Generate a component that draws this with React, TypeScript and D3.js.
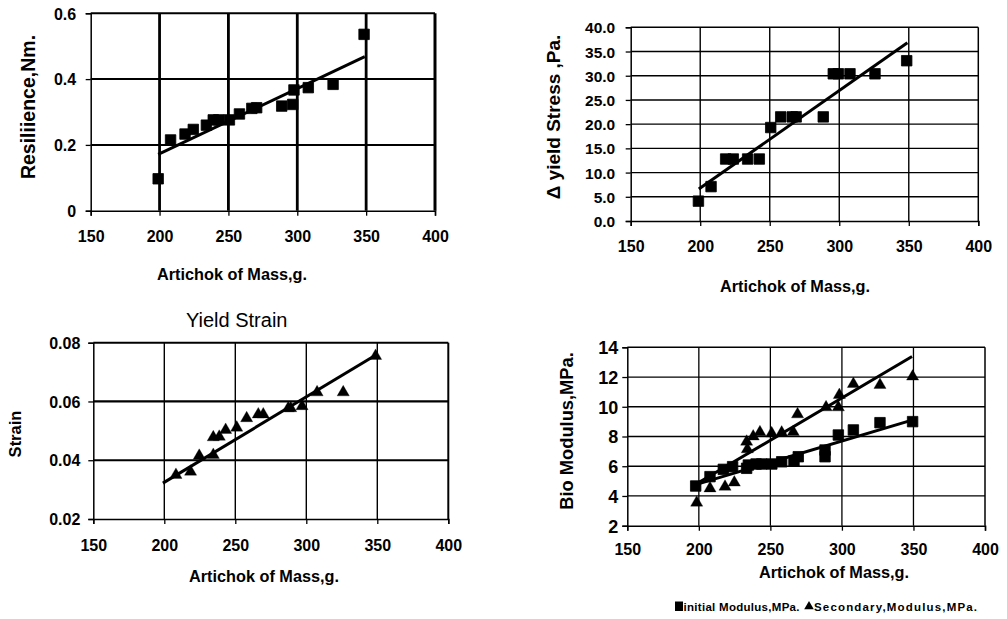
import React, { useEffect, useRef } from 'react';
import * as d3 from 'd3';

// shared x ticks (artichoke mass, g)
const massTicks = [150, 200, 250, 300, 350, 400];

// panel 1: resilience
const resMass = [199, 208, 218.5, 224.5, 234, 239, 243, 250.7, 258, 267, 270.5, 288.7, 296.7, 297.6, 308, 326, 348.5];
const resValue = [0.097, 0.215, 0.233, 0.247, 0.26, 0.276, 0.276, 0.276, 0.294, 0.311, 0.313, 0.318, 0.323, 0.367, 0.374, 0.384, 0.536];
const resTrend = [0.171, 0.468];

// panel 2: yield stress
const stressMass = [198.7, 207.8, 218.3, 223.8, 234.1, 242.5, 250.7, 257.9, 266.2, 269, 288.5, 295.7, 299.3, 307.7, 325.7, 348.5];
const stressValue = [4.1, 7.1, 12.8, 12.8, 12.8, 12.8, 19.3, 21.5, 21.5, 21.5, 21.5, 30.4, 30.4, 30.4, 30.4, 33.1];
const stressTrend = [6.6, 36.8];

// panel 3: yield strain
const strainMass = [208.2, 218.5, 224.6, 234.5, 234.5, 238.7, 243.2, 251, 258, 266.2, 269.7, 287.3, 289, 297, 307.6, 326, 348.8];
const strainValue = [0.035, 0.0361, 0.0415, 0.0418, 0.0478, 0.048, 0.0503, 0.0511, 0.0543, 0.0556, 0.0556, 0.0577, 0.0577, 0.0584, 0.0631, 0.0631, 0.0755];
const strainTrend = [0.0322, 0.0758];

// panel 4: bio modulus
const initMass = [197.8, 207.8, 217.1, 223.6, 233.4, 234.6, 240, 244, 251, 257.9, 266.5, 269.5, 288.2, 288.2, 297.5, 308, 326.6, 349.4];
const initValue = [4.67, 5.3, 5.79, 5.97, 5.86, 6.08, 6.15, 6.15, 6.15, 6.3, 6.37, 6.64, 6.64, 7.09, 8.1, 8.44, 8.93, 9.0];
const initTrend = [4.8, 9.1];
const secMass = [198.5, 207.8, 218.3, 224.8, 233.4, 233.9, 238, 242.7, 250.9, 257.9, 266, 269, 288.9, 297.5, 298.2, 308, 326.6, 349.4];
const secValue = [3.55, 4.51, 4.62, 4.9, 7.65, 7.14, 8.0, 8.28, 8.21, 8.26, 8.3, 9.49, 9.96, 9.96, 10.79, 11.53, 11.47, 12.03];
const secTrend = [4.85, 13.38];
const trendMass = [199, 349];

const FONT = '"Liberation Sans", Arial, sans-serif';

type Series = { x: number[]; y: number[]; trend: number[]; shape: 'square' | 'triangle' };

type Panel = {
  left: number; right: number; top: number; bottom: number;
  yDomain: [number, number]; yTicks: number[]; fmt: (d: number) => string;
  vGrid: number; hGrid: number; topW: number; rightW: number;
  yTitle: string; yTitleX: number; yTitleY: number; yTitleSize: number;
  xTitleX: number; xTitleY: number; xTickY: number; yTickGap: number; yTickSize: number;
  series: Series[];
};

const panels: Panel[] = [
  {
    left: 90.7, right: 435, top: 13.3, bottom: 210.7,
    yDomain: [0, 0.6], yTicks: [0, 0.2, 0.4, 0.6], fmt: d => (d === 0 ? '0' : d.toFixed(1)),
    vGrid: 2.8, hGrid: 2, topW: 2, rightW: 3,
    yTitle: 'Resiliience,Nm.', yTitleX: 28, yTitleY: 107, yTitleSize: 19.5,
    xTitleX: 232, xTitleY: 280, xTickY: 241.5, yTickGap: 14.5, yTickSize: 16,
    series: [{ x: resMass, y: resValue, trend: resTrend, shape: 'square' }],
  },
  {
    left: 630.7, right: 978.3, top: 27.3, bottom: 221,
    yDomain: [0, 40], yTicks: d3.range(0, 41, 5), fmt: d => d.toFixed(1),
    vGrid: 1.4, hGrid: 1.4, topW: 1.5, rightW: 1.5,
    yTitle: '\u0394 yield Stress ,Pa.', yTitleX: 553, yTitleY: 117, yTitleSize: 19,
    xTitleX: 795, xTitleY: 291.5, xTickY: 251.5, yTickGap: 15.5, yTickSize: 15.5,
    series: [{ x: stressMass, y: stressValue, trend: stressTrend, shape: 'square' }],
  },
  {
    left: 93.3, right: 448.3, top: 342.7, bottom: 519,
    yDomain: [0.02, 0.08], yTicks: [0.02, 0.04, 0.06, 0.08], fmt: d => d.toFixed(2),
    vGrid: 1.4, hGrid: 2.2, topW: 2, rightW: 2,
    yTitle: 'Strain', yTitleX: 15, yTitleY: 434, yTitleSize: 16.5,
    xTitleX: 264, xTitleY: 581.5, xTickY: 550.5, yTickGap: 13, yTickSize: 16,
    series: [{ x: strainMass, y: strainValue, trend: strainTrend, shape: 'triangle' }],
  },
  {
    left: 627.3, right: 985, top: 347.3, bottom: 525.7,
    yDomain: [2, 14], yTicks: d3.range(2, 15, 2), fmt: d => String(d),
    vGrid: 1.3, hGrid: 1.3, topW: 1.5, rightW: 1.5,
    yTitle: 'Bio Modulus,MPa.', yTitleX: 567, yTitleY: 431, yTitleSize: 18.3,
    xTitleX: 834, xTitleY: 578, xTickY: 555, yTickGap: 9, yTickSize: 18,
    series: [
      { x: initMass, y: initValue, trend: initTrend, shape: 'square' },
      { x: secMass, y: secValue, trend: secTrend, shape: 'triangle' },
    ],
  },
];

function drawPanel(svg: d3.Selection<SVGSVGElement, unknown, null, undefined>, p: Panel) {
  const x = d3.scaleLinear().domain([150, 400]).range([p.left, p.right]);
  const y = d3.scaleLinear().domain(p.yDomain).range([p.bottom, p.top]);
  const g = svg.append('g');

  // gridlines
  g.selectAll('.vg').data(massTicks.slice(1, -1)).enter().append('line')
    .attr('x1', d => x(d)).attr('x2', d => x(d)).attr('y1', p.top).attr('y2', p.bottom)
    .attr('stroke', '#000').attr('stroke-width', p.vGrid);
  g.selectAll('.hg').data(p.yTicks.slice(1, -1)).enter().append('line')
    .attr('x1', p.left).attr('x2', p.right).attr('y1', d => y(d)).attr('y2', d => y(d))
    .attr('stroke', '#000').attr('stroke-width', p.hGrid);

  // frame
  g.append('line').attr('x1', p.left).attr('x2', p.right).attr('y1', p.top).attr('y2', p.top)
    .attr('stroke', '#000').attr('stroke-width', p.topW);
  g.append('line').attr('x1', p.right).attr('x2', p.right).attr('y1', p.top).attr('y2', p.bottom)
    .attr('stroke', '#000').attr('stroke-width', p.rightW);

  // axes
  const yAxis = g.append('g').attr('transform', `translate(${p.left},0)`)
    .call(d3.axisLeft(y).tickValues(p.yTicks).tickSize(5).tickPadding(p.yTickGap - 5).tickFormat(d => p.fmt(+d)));
  const xAxis = g.append('g').attr('transform', `translate(0,${p.bottom})`)
    .call(d3.axisBottom(x).tickValues(massTicks).tickSize(5).tickFormat(d => String(d)));
  [yAxis, xAxis].forEach(a => {
    a.select('.domain').attr('stroke', '#000').attr('stroke-width', 1.5);
    a.selectAll('.tick line').attr('stroke', '#000').attr('stroke-width', 1.3);
    a.selectAll('.tick text').attr('font-family', FONT).attr('font-weight', 'bold')
      .attr('font-size', 16).attr('fill', '#000');
  });
  yAxis.selectAll('.tick text').attr('dy', '0.36em').attr('font-size', p.yTickSize);
  xAxis.selectAll('.tick text').attr('y', null).attr('dy', null)
    .attr('transform', `translate(0,${p.xTickY - p.bottom})`);

  // trendlines and markers
  p.series.forEach(s => {
    g.append('line')
      .attr('x1', x(trendMass[0])).attr('y1', y(s.trend[0]))
      .attr('x2', x(trendMass[1])).attr('y2', y(s.trend[1]))
      .attr('stroke', '#000').attr('stroke-width', 3);
    const sym = s.shape === 'square'
      ? d3.symbol().type(d3.symbolSquare).size(110)
      : d3.symbol().type(d3.symbolTriangle).size(64);
    g.selectAll(null).data(s.x.map((m, i) => [m, s.y[i]])).enter().append('path')
      .attr('d', sym()).attr('fill', '#000')
      .attr('stroke', '#000').attr('stroke-width', s.shape === 'square' ? 0.8 : 0.3)
      .attr('stroke-linejoin', 'round')
      .attr('transform', d => `translate(${x(d[0])},${y(d[1])})`);
  });

  // titles
  g.append('text').attr('transform', `translate(${p.yTitleX},${p.yTitleY}) rotate(-90)`)
    .attr('text-anchor', 'middle').attr('dy', '0.35em')
    .attr('font-family', FONT).attr('font-weight', 'bold').attr('font-size', p.yTitleSize).text(p.yTitle);
  g.append('text').attr('x', p.xTitleX).attr('y', p.xTitleY).attr('text-anchor', 'middle')
    .attr('font-family', FONT).attr('font-weight', 'bold').attr('font-size', 16.3)
    .text('Artichok of Mass,g.');
}

export default function App() {
  const ref = useRef<SVGSVGElement>(null);

  useEffect(() => {
    const svg = d3.select(ref.current as SVGSVGElement);
    svg.selectAll('*').remove();
    panels.forEach(p => drawPanel(svg, p));

    svg.append('text').attr('x', 236.7).attr('y', 327.3).attr('text-anchor', 'middle')
      .attr('font-family', FONT).attr('font-size', 20).text('Yield Strain');

    // legend under the modulus panel
    const lg = svg.append('g').attr('font-family', FONT).attr('font-weight', 'bold')
      .attr('font-size', 11.5);
    lg.append('rect').attr('x', 675).attr('y', 601.5).attr('width', 8).attr('height', 9.5).attr('fill', '#000');
    lg.append('text').attr('x', 683.5).attr('y', 611).attr('textLength', 116)
      .attr('lengthAdjust', 'spacing').text('initial Modulus,MPa.');
    lg.append('path').attr('d', d3.symbol().type(d3.symbolTriangle).size(40)()!)
      .attr('transform', 'translate(809,606.5)').attr('fill', '#000');
    lg.append('text').attr('x', 814).attr('y', 611).attr('textLength', 163)
      .attr('lengthAdjust', 'spacing').text('Secondary,Modulus,MPa.');
  }, []);

  return (
    <div style={{ position: 'absolute', left: 0, top: 0 }}>
      <svg ref={ref} width={1007} height={619} style={{ display: 'block', background: '#fff' }} />
    </div>
  );
}
